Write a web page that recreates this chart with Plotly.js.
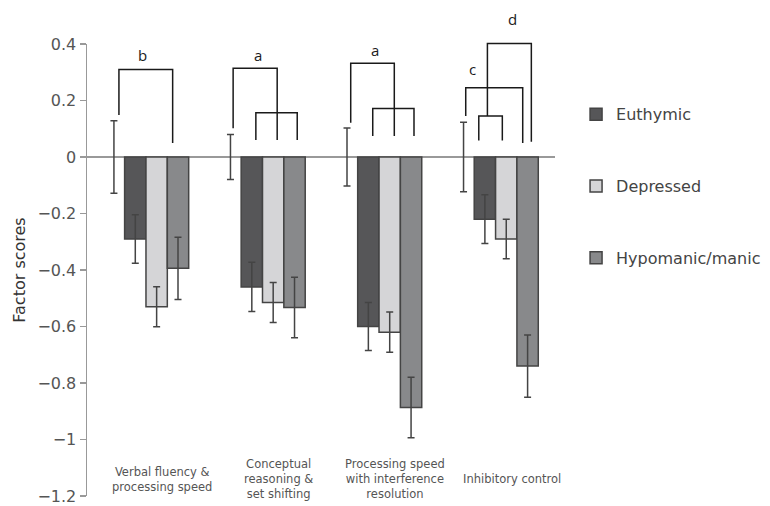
<!DOCTYPE html>
<html>
<head>
<meta charset="utf-8">
<script src="https://cdn.plot.ly/plotly-3.0.1.min.js"></script>
<style>html,body{margin:0;padding:0;background:#fff;}#chart{width:770px;height:506px;}</style>
</head>
<body>
<div id="chart"></div>
<script>
// ---- data ----
const categories = ['Verbal fluency &<br>processing speed', 'Conceptual<br>reasoning &<br>set shifting', 'Processing speed<br>with interference<br>resolution', 'Inhibitory control'];
const seriesNames = ['Euthymic', 'Depressed', 'Hypomanic/manic'];
const euthymic = [-0.29, -0.46, -0.60, -0.22];
const euthymicErr = [0.086, 0.087, 0.085, 0.086];
const depressed = [-0.53, -0.515, -0.62, -0.29];
const depressedErr = [0.071, 0.071, 0.071, 0.07];
const hypomanic = [-0.394, -0.533, -0.887, -0.74];
const hypomanicErr = [0.11, 0.107, 0.107, 0.11];
const control = [0, 0, 0, 0];
const controlErr = [0.128, 0.08, 0.103, 0.123];
const sigLabels = ['b', 'a', 'a', 'c', 'd'];

// ---- layout helpers ----
const xIdx = categories.map((c, i) => i);
const xr = [-0.506, 3.51];
const yr = [-1.2, 0.4];
const xp = v => (v - xr[0]) / (xr[1] - xr[0]);
const yp = v => (v - yr[0]) / (yr[1] - yr[0]);

const fills = ['#565658', '#d5d5d7', '#88898b'];
const errStyle = {type: 'data', color: '#444', thickness: 1.5, width: 3.5, visible: true};

const traces = [{
  type: 'bar', x: xIdx, y: control, name: 'Control', showlegend: false,
  marker: {color: 'rgba(0,0,0,0)', line: {width: 0}},
  error_y: Object.assign({array: controlErr}, errStyle), hoverinfo: 'skip'
}];
[[euthymic, euthymicErr], [depressed, depressedErr], [hypomanic, hypomanicErr]].forEach((s, i) => {
  traces.push({
    type: 'bar', x: xIdx, y: s[0], name: seriesNames[i], legendgroup: 'g' + i,
    marker: {color: fills[i], line: {color: '#444', width: 1.5}},
    error_y: Object.assign({array: s[1]}, errStyle)
  });
});

// significance brackets: [group, [[offset, value], ...]]
const brackets = [
  [0, [[-0.232, 0.149], [-0.232, 0.31], [0.229, 0.31], [0.229, 0.05]]],
  [1, [[-0.252, 0.102], [-0.252, 0.314], [0.126, 0.314], [0.126, 0.06]]],
  [1, [[-0.057, 0.06], [-0.057, 0.157], [0.298, 0.157], [0.298, 0.06]]],
  [2, [[-0.243, 0.121], [-0.243, 0.332], [0.131, 0.332], [0.131, 0.074]]],
  [2, [[-0.054, 0.074], [-0.054, 0.172], [0.3, 0.172], [0.3, 0.074]]],
  [3, [[-0.256, 0.145], [-0.256, 0.245], [0.233, 0.245], [0.233, 0.05]]],
  [3, [[-0.144, 0.058], [-0.144, 0.145], [0.058, 0.145], [0.058, 0.058]]],
  [3, [[-0.07, 0.145], [-0.07, 0.402], [0.307, 0.402], [0.307, 0.054]]]
];
const shapes = brackets.map(b => ({
  type: 'path', xref: 'paper', yref: 'paper',
  path: b[1].map((p, k) => (k ? 'L' : 'M') + xp(b[0] + p[0]).toFixed(5) + ',' + yp(p[1]).toFixed(5)).join(' '),
  line: {color: '#1a1a1a', width: 1.5}
}));

const labelPos = [[0, -0.026, 0.36], [1, -0.042, 0.36], [2, -0.034, 0.379], [3, -0.2, 0.31], [3, 0.148, 0.49]];
const annotations = sigLabels.map((t, i) => ({
  text: t, xref: 'paper', yref: 'paper', x: xp(labelPos[i][0] + labelPos[i][1]), y: yp(labelPos[i][2]),
  xanchor: 'center', yanchor: 'middle', showarrow: false,
  font: {family: 'Open Sans', size: 15, color: '#1a1a1a'}
}));
categories.forEach((c, i) => {
  annotations.push({
    text: c, xref: 'x', yref: 'y', x: i + 0.14, y: -1.14, xanchor: 'center', yanchor: 'middle',
    showarrow: false, align: 'center',
    font: {family: 'DejaVu Sans', size: 11.5, color: '#555'}
  });
});

const layout = {
  width: 770, height: 506,
  margin: {l: 87, r: 215, t: 44, b: 10, autoexpand: false},
  paper_bgcolor: '#fff', plot_bgcolor: '#fff',
  barmode: 'group', bargap: 0.267, bargroupgap: 0,
  xaxis: {type: 'linear', range: xr, showticklabels: false, ticks: '', showline: false, showgrid: false, zeroline: false},
  yaxis: {
    range: yr, dtick: 0.2, tick0: 0, showgrid: false,
    showline: true, linecolor: '#999', linewidth: 1.5,
    ticks: 'outside', ticklen: 6, tickcolor: '#999', tickwidth: 1.5,
    zeroline: true, zerolinecolor: '#999', zerolinewidth: 1.2,
    tickfont: {family: 'DejaVu Sans', size: 16, color: '#555'},
    title: {text: 'Factor scores', font: {family: 'DejaVu Sans', size: 16, color: '#333'}, standoff: 8}
  },
  legend: {
    x: 1.045, xanchor: 'left', y: 0.882, yanchor: 'top',
    traceorder: 'grouped', tracegroupgap: 48,
    font: {family: 'DejaVu Sans', size: 16, color: '#444'},
    bgcolor: 'rgba(0,0,0,0)'
  },
  shapes: shapes,
  annotations: annotations,
  showlegend: true
};

Plotly.newPlot('chart', traces, layout, {displayModeBar: false, staticPlot: true});
</script>
</body>
</html>
